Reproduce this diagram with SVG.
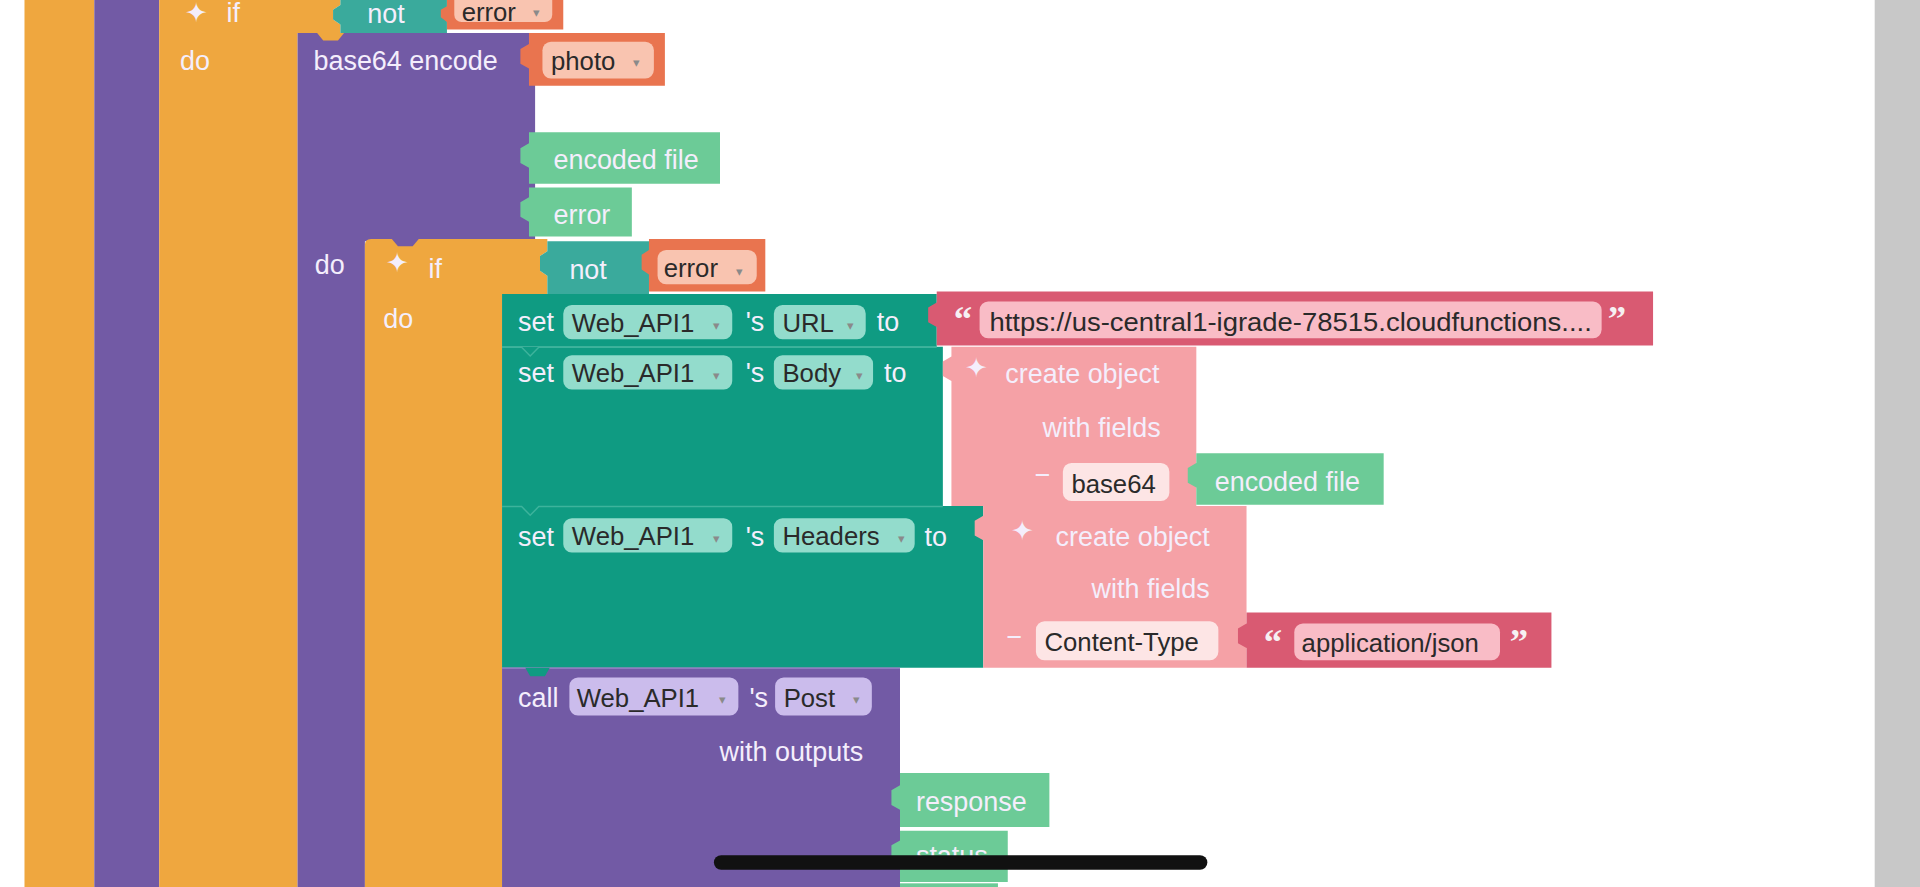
<svg xmlns="http://www.w3.org/2000/svg" width="1920" height="887" viewBox="0 0 1920 887">
<style>
.or{fill:#efa73f}.pu{fill:#725aa5}.te{fill:#0f9b82}.nt{fill:#3aaa9c}.er{fill:#e9744f}.erp{fill:#f9c4b0}
.st{fill:#d95a72}.stp{fill:#f9bcc6}.co{fill:#f5a1a6}.cop{fill:#fde5e5}.gr{fill:#6ccb97}.tp{fill:#93dccc}.cp{fill:#cbbcec}
.l{font-family:"Liberation Sans",Arial,sans-serif;font-size:22px;fill:#f4eefc}
.d{font-family:"Liberation Sans",Arial,sans-serif;font-size:21px;fill:#2a2a2a}
.a{font-family:"Liberation Sans",Arial,sans-serif;font-size:11px;fill:#8a8a8a}
.q{font-family:"Liberation Serif",serif;font-size:30px;fill:#f6f0f2;font-weight:bold}
.sep{fill:none;stroke:#3db39c;stroke-width:1.2}
</style>
<rect width="1920" height="887" fill="#ffffff"/>
<g transform="scale(1.22449,1.22514)">
<rect x="1531" y="0" width="37" height="724" fill="#c8c8c8"/>
<g id="outer-columns">
<rect x="20" y="0" width="57" height="724" class="or"/>
<rect x="77" y="0" width="53" height="724" class="pu"/>
</g>
<g id="outer-if">
<path class="or" d="M130,0 H278 V4 l-6,4 v8 l6,4 V27 H243 V724 H130 Z"/>
<text x="151" y="18" class="l" font-size="13">✦</text>
<text x="185" y="18" class="l" font-size="16">if</text>
<text x="147" y="57" class="l">do</text>
</g>
<g id="not-1">
<path class="nt" d="M278,0 H365 V27 H278 V20 l-6,-4 v-8 l6,-4 Z"/>
<text x="300" y="19" class="l">not</text>
</g>
<g id="error-1">
<path class="er" d="M365,0 H460 V24 H365 V18 l-5,-4 v-6 l5,-3 Z"/>
<rect x="371" y="-6" width="80" height="24" rx="6" class="erp"/>
<text x="377" y="17" class="d" font-size="17">error</text>
<text x="435" y="14" class="a">▾</text>
</g>
<g id="base64-encode">
<path class="pu" d="M243,27 H437 V197 H298 V724 H243 Z"/>
<path class="or" d="M259,27 h22 l-5,6 h-12 Z"/>
<text x="256" y="57" class="l">base64 encode</text>
<text x="257" y="224" class="l">do</text>
</g>
<g id="photo">
<path class="er" d="M432,27 H543 V70 H432 V56 l-7,-4 v-12 l7,-4 Z"/>
<rect x="443" y="34" width="91" height="30" rx="7" class="erp"/>
<text x="450" y="57" class="d">photo</text>
<text x="517" y="55" class="a">▾</text>
</g>
<g id="encoded-file-1">
<path class="gr" d="M432,108 H588 V150 H432 V137 l-7,-4 v-12 l7,-4 Z"/>
<text x="452" y="138" class="l">encoded file</text>
</g>
<g id="error-green">
<path class="gr" d="M432,153 H516 V193 H432 V181 l-7,-4 v-12 l7,-4 Z"/>
<text x="452" y="183" class="l">error</text>
</g>
<g id="inner-if">
<path class="or" d="M298,200 q0,-5 5,-5 H447 V205 l-6,4 v12 l6,4 V240 H410 V724 H298 Z"/>
<path class="pu" d="M320,195 h22 l-5,6 h-12 Z"/>
<text x="315" y="222" class="l" font-size="20">✦</text>
<text x="350" y="227" class="l" font-size="17">if</text>
<text x="313" y="268" class="l">do</text>
</g>
<g id="not-2">
<path class="nt" d="M447,197 H530 V240 H447 V225 l-6,-4 v-12 l6,-4 Z"/>
<text x="465" y="228" class="l">not</text>
</g>
<g id="error-2">
<path class="er" d="M530,195 H625 V238 H530 V224 l-6,-4 v-12 l6,-4 Z"/>
<rect x="537" y="204" width="81" height="28" rx="7" class="erp"/>
<text x="542" y="226" class="d" font-size="19">error</text>
<text x="601" y="225" class="a">▾</text>
</g>
<g id="set-url">
<path class="te" d="M410,240 H765 V283 H410 Z"/>
<text x="423" y="270" class="l">set</text>
<rect x="460" y="249" width="138" height="28" rx="7" class="tp"/>
<text x="467" y="271" class="d">Web_API1</text>
<text x="582" y="269" class="a">▾</text>
<text x="609" y="270" class="l">'s</text>
<rect x="632" y="249" width="75" height="28" rx="7" class="tp"/>
<text x="639" y="271" class="d">URL</text>
<text x="692" y="269" class="a">▾</text>
<text x="716" y="270" class="l">to</text>
</g>
<g id="url-string">
<path class="st" d="M765,238 H1350 V282 H765 V267 l-7,-4 v-12 l7,-4 Z"/>
<text x="779" y="270" class="q">“</text>
<rect x="800" y="246" width="508" height="30" rx="7" class="stp"/>
<text x="808" y="270" class="d" textLength="492" lengthAdjust="spacingAndGlyphs">https://us-central1-igrade-78515.cloudfunctions....</text>
<text x="1313" y="270" class="q">”</text>
</g>
<g id="set-body">
<path class="te" d="M410,283 H770 V413 H410 Z"/>
<path class="sep" d="M410,283.5 H426 l7,7 l7,-7 H765"/>
<text x="423" y="312" class="l">set</text>
<rect x="460" y="290" width="138" height="28" rx="7" class="tp"/>
<text x="467" y="312" class="d">Web_API1</text>
<text x="582" y="310" class="a">▾</text>
<text x="609" y="312" class="l">'s</text>
<rect x="632" y="290" width="81" height="28" rx="7" class="tp"/>
<text x="639" y="312" class="d">Body</text>
<text x="699" y="310" class="a">▾</text>
<text x="722" y="312" class="l">to</text>
</g>
<g id="create-object-body">
<path class="co" d="M777,283 H977 V413 H777 V311 l-7,-4 v-12 l7,-4 Z"/>
<text x="788" y="308" class="l" font-size="20">✦</text>
<text x="821" y="313" class="l">create object</text>
<text x="948" y="357" class="l" text-anchor="end">with fields</text>
<text x="845" y="395" class="l">−</text>
<rect x="868" y="378" width="87" height="31" rx="7" class="cop"/>
<text x="875" y="402" class="d">base64</text>
</g>
<g id="encoded-file-2">
<path class="gr" d="M977,370 H1130 V412 H977 V398 l-7,-4 v-12 l7,-4 Z"/>
<text x="992" y="401" class="l">encoded file</text>
</g>
<g id="set-headers">
<path class="te" d="M410,413 H803 V545 H410 Z"/>
<path class="sep" d="M410,413.5 H426 l7,7 l7,-7 H770"/>
<text x="423" y="446" class="l">set</text>
<rect x="460" y="423" width="138" height="28" rx="7" class="tp"/>
<text x="467" y="445" class="d">Web_API1</text>
<text x="582" y="443" class="a">▾</text>
<text x="609" y="446" class="l">'s</text>
<rect x="632" y="423" width="115" height="28" rx="7" class="tp"/>
<text x="639" y="445" class="d">Headers</text>
<text x="733" y="443" class="a">▾</text>
<text x="755" y="446" class="l">to</text>
</g>
<g id="create-object-headers">
<path class="co" d="M803,413 H1018 V545 H803 V441 l-7,-4 v-12 l7,-4 Z"/>
<text x="826" y="441" class="l" font-size="20">✦</text>
<text x="862" y="446" class="l">create object</text>
<text x="988" y="488" class="l" text-anchor="end">with fields</text>
<text x="822" y="527" class="l">−</text>
<rect x="846" y="507" width="149" height="32" rx="7" class="cop"/>
<text x="853" y="531" class="d">Content-Type</text>
</g>
<g id="application-json">
<path class="st" d="M1018,500 H1267 V545 H1018 V529 l-7,-4 v-12 l7,-4 Z"/>
<text x="1032" y="534" class="q">“</text>
<rect x="1057" y="509" width="168" height="30" rx="7" class="stp"/>
<text x="1063" y="532" class="d">application/json</text>
<text x="1233" y="534" class="q">”</text>
</g>
<g id="call-post">
<path class="pu" d="M410,545 H735 V724 H410 Z"/>
<path d="M410,545.5 H735" stroke="#8f7bc0" stroke-width="1.2" fill="none"/>
<path class="te" d="M429,545 h20 l-4,7 h-12 Z"/>
<text x="423" y="577" class="l">call</text>
<rect x="465" y="553" width="138" height="31" rx="7" class="cp"/>
<text x="471" y="577" class="d">Web_API1</text>
<text x="587" y="575" class="a">▾</text>
<text x="612" y="577" class="l">'s</text>
<rect x="633" y="553" width="79" height="31" rx="7" class="cp"/>
<text x="640" y="577" class="d">Post</text>
<text x="697" y="575" class="a">▾</text>
<text x="705" y="621" class="l" text-anchor="end">with outputs</text>
</g>
<g id="response">
<path class="gr" d="M735,631 H857 V675 H735 V661 l-7,-4 v-12 l7,-4 Z"/>
<text x="748" y="662" class="l">response</text>
</g>
<g id="status">
<path class="gr" d="M735,678 H823 V720 H735 V706 l-7,-4 v-12 l7,-4 Z"/>
<text x="748" y="706" class="l">status</text>
</g>
<rect x="735" y="721" width="80" height="3" class="gr"/>
<rect x="583" y="698" width="403" height="12" rx="6" fill="#111111"/>
</g>
</svg>
